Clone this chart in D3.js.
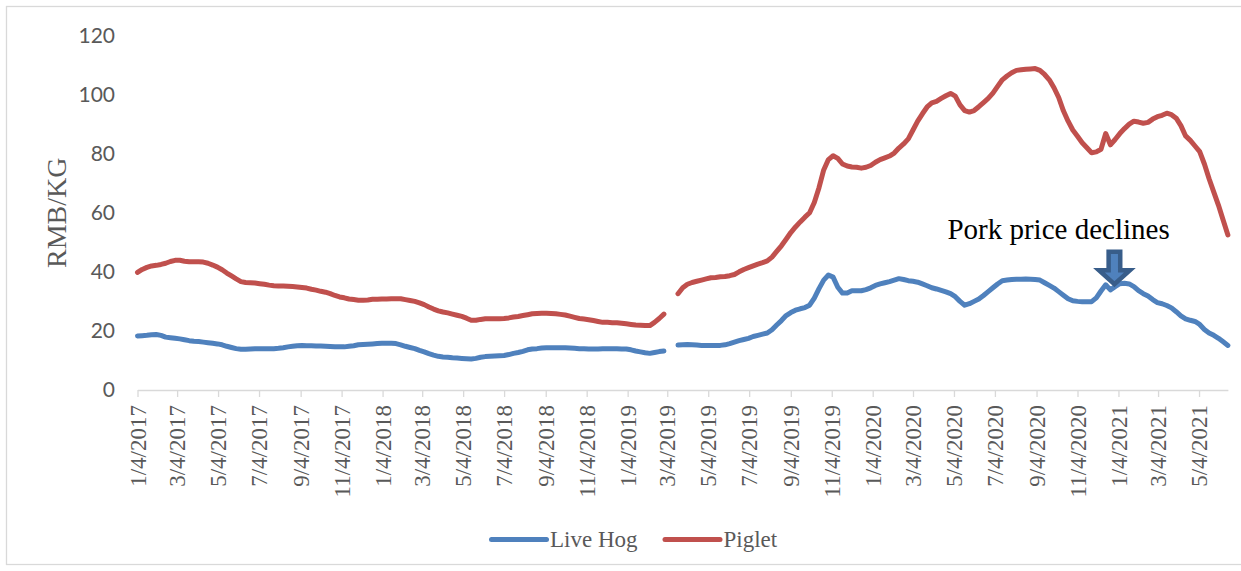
<!DOCTYPE html>
<html>
<head>
<meta charset="utf-8">
<script src="https://cdn.jsdelivr.net/npm/d3@7"></script>
<style>
  html, body { margin: 0; padding: 0; background: #ffffff; }
  svg { display: block; }
</style>
</head>
<body>
<svg id="chart" width="1241" height="571"></svg>
<script>
// Weekly price series (RMB/KG), first observation on 2017-01-04; null = no quote that week
const firstWeek = "2017-01-04";

const liveHog = [
  18.3, 18.4, 18.5, 18.7, 18.8, 18.5, 17.9, 17.7, 17.5, 17.3,
  17.0, 16.7, 16.5, 16.4, 16.2, 16.0, 15.8, 15.6, 15.3, 14.8,
  14.4, 14.0, 13.8, 13.8, 13.9, 14.0, 14.0, 14.0, 14.0, 14.0,
  14.1, 14.3, 14.6, 14.8, 15.0, 15.1, 15.0, 15.0, 14.9, 14.9,
  14.8, 14.7, 14.6, 14.6, 14.6, 14.8, 15.0, 15.3, 15.4, 15.5,
  15.6, 15.7, 15.8, 15.8, 15.8, 15.7, 15.3, 14.8, 14.4, 14.0,
  13.4, 12.9, 12.3, 11.8, 11.4, 11.2, 11.1, 10.9, 10.8, 10.7,
  10.6, 10.5, 10.7, 11.1, 11.3, 11.4, 11.5, 11.6, 11.7, 12.0,
  12.4, 12.7, 13.1, 13.6, 13.9, 14.0, 14.2, 14.3, 14.3, 14.3,
  14.3, 14.3, 14.2, 14.1, 14.0, 14.0, 13.9, 13.9, 13.9, 14.0,
  14.0, 14.0, 14.0, 13.9, 13.9, 13.6, 13.2, 12.9, 12.6, 12.4,
  12.7, 13.0, 13.2, null, null, 15.2, 15.3, 15.4, 15.3, 15.2,
  15.1, 15.1, 15.1, 15.1, 15.1, 15.3, 15.7, 16.2, 16.7, 17.1,
  17.5, 18.1, 18.5, 18.9, 19.3, 20.4, 22.0, 23.5, 25.2, 26.2,
  27.0, 27.5, 27.9, 28.7, 31.1, 34.3, 37.2, 38.9, 38.2, 34.8,
  32.8, 32.8, 33.6, 33.6, 33.6, 34.0, 34.6, 35.4, 35.9, 36.3,
  36.7, 37.2, 37.7, 37.4, 37.0, 36.8, 36.5, 35.9, 35.3, 34.6,
  34.2, 33.7, 33.2, 32.6, 31.6, 30.0, 28.7, 29.2, 30.0, 30.8,
  32.0, 33.3, 34.6, 35.9, 37.0, 37.2, 37.4, 37.5, 37.5, 37.6,
  37.5, 37.4, 37.2, 36.3, 35.4, 34.5, 33.3, 32.1, 30.9, 30.2,
  30.0, 29.9, 29.9, 29.9, 31.2, 33.5, 35.6, 33.9, 35.0, 36.0,
  36.1, 35.9, 35.0, 33.6, 32.6, 31.8, 30.6, 29.6, 29.2, 28.6,
  27.8, 26.5, 25.1, 24.1, 23.6, 23.2, 22.2, 20.5, 19.3, 18.5,
  17.5, 16.3, 15.1
];

const piglet = [
  39.8, 40.8, 41.5, 42.0, 42.2, 42.5, 42.9, 43.5, 43.9, 43.9,
  43.6, 43.4, 43.4, 43.4, 43.3, 42.9, 42.3, 41.6, 40.7, 39.6,
  38.6, 37.6, 36.7, 36.4, 36.3, 36.2, 36.0, 35.8, 35.5, 35.3,
  35.2, 35.2, 35.1, 35.0, 34.9, 34.7, 34.5, 34.1, 33.8, 33.4,
  33.1, 32.6, 32.0, 31.5, 31.2, 30.8, 30.6, 30.4, 30.4, 30.5,
  30.7, 30.7, 30.8, 30.8, 30.9, 30.9, 30.9, 30.6, 30.3, 30.0,
  29.5, 28.9, 28.1, 27.4, 26.8, 26.4, 26.1, 25.7, 25.3, 24.9,
  24.3, 23.6, 23.6, 23.9, 24.1, 24.1, 24.1, 24.1, 24.2, 24.4,
  24.7, 24.9, 25.2, 25.5, 25.8, 25.9, 26.0, 26.0, 25.9, 25.8,
  25.6, 25.4, 25.0, 24.6, 24.2, 24.0, 23.8, 23.5, 23.2, 22.9,
  22.9, 22.8, 22.8, 22.6, 22.4, 22.2, 22.0, 21.9, 21.8, 21.8,
  22.9, 24.2, 25.7, null, null, 32.6, 34.6, 35.8, 36.4, 36.8,
  37.2, 37.6, 38.0, 38.1, 38.3, 38.4, 38.7, 39.1, 40.0, 40.8,
  41.4, 42.0, 42.6, 43.1, 43.7, 45.0, 46.9, 48.8, 51.0, 53.3,
  55.2, 56.9, 58.5, 60.0, 63.5, 68.5, 74.5, 78.0, 79.3, 78.4,
  76.5, 75.8, 75.5, 75.4, 75.1, 75.4, 76.0, 77.1, 78.0, 78.6,
  79.2, 80.2, 81.9, 83.3, 85.0, 88.0, 91.0, 93.5, 95.8, 97.2,
  97.7, 98.7, 99.6, 100.4, 99.5, 96.5, 94.6, 94.1, 94.6, 95.9,
  97.3, 98.7, 100.5, 102.8, 105.0, 106.3, 107.4, 108.2, 108.4, 108.6,
  108.7, 108.8, 108.2, 106.8, 105.0, 102.3, 99.0, 94.5, 91.0, 88.0,
  85.9, 83.7, 82.0, 80.3, 80.6, 81.5, 86.8, 83.0, 84.8, 86.8,
  88.5, 90.0, 91.0, 90.7, 90.3, 90.6, 91.7, 92.5, 93.0, 93.7,
  93.2, 92.0, 89.5, 86.0, 84.5, 82.6, 80.7, 76.5, 71.5, 67.0,
  62.5, 57.5, 52.5
];

const tickLabels = [
  "1/4/2017", "3/4/2017", "5/4/2017", "7/4/2017", "9/4/2017", "11/4/2017",
  "1/4/2018", "3/4/2018", "5/4/2018", "7/4/2018", "9/4/2018", "11/4/2018",
  "1/4/2019", "3/4/2019", "5/4/2019", "7/4/2019", "9/4/2019", "11/4/2019",
  "1/4/2020", "3/4/2020", "5/4/2020", "7/4/2020", "9/4/2020", "11/4/2020",
  "1/4/2021", "3/4/2021", "5/4/2021"
];
const yTicks = [0, 20, 40, 60, 80, 100, 120];

const seriesNames = ["Live Hog", "Piglet"];
const seriesColors = ["#4f81bd", "#c0504d"];

const annotationText = "Pork price declines";
const annotationPoint = { date: "2020-12-29", value: 34.8 };

// ---- layout ----
const svg = d3.select("#chart");
const plot = { left: 137.5, right: 1227.9, top: 35.5, bottom: 390 };
const serif = "'Liberation Serif', 'Times New Roman', serif";
const axisGrey = "#d9d9d9";
const textGrey = "#595959";

// chart frame
svg.append("rect")
  .attr("x", 6.5).attr("y", 6.5)
  .attr("width", 1250).attr("height", 558)
  .attr("fill", "#ffffff")
  .attr("stroke", axisGrey)
  .attr("stroke-width", 1.3);

const start = d3.timeParse("%Y-%m-%d")(firstWeek);
const weekDates = liveHog.map((_, i) => d3.timeDay.offset(start, 7 * i));
const parseTick = d3.timeParse("%m/%d/%Y");
const tickDates = tickLabels.map(parseTick);

const x = d3.scaleTime()
  .domain([weekDates[0], weekDates[weekDates.length - 1]])
  .range([plot.left, plot.right]);

const y = d3.scaleLinear()
  .domain([0, 120])
  .range([plot.bottom, plot.top]);

// y axis: labels only, no line
const yAxis = d3.axisLeft(y).tickValues(yTicks).tickSize(0).tickPadding(0);
const yg = svg.append("g")
  .attr("transform", `translate(${115},0)`)
  .call(yAxis);
yg.select(".domain").remove();
yg.selectAll("text")
  .attr("fill", textGrey)
  .style("font-family", "Lato, 'Open Sans', sans-serif")
  .style("font-size", "21px");

// y axis title
svg.append("text")
  .attr("transform", `translate(66,${(plot.top + plot.bottom) / 2}) rotate(-90)`)
  .attr("text-anchor", "middle")
  .attr("fill", textGrey)
  .style("font-family", serif)
  .style("font-size", "28px")
  .text("RMB/KG");

// x axis
const fmt = d3.timeFormat("%-m/%-d/%Y");
const xAxis = d3.axisBottom(x).tickValues(tickDates).tickFormat(fmt).tickSize(7).tickSizeOuter(0);
const xg = svg.append("g")
  .attr("transform", `translate(0,${plot.bottom})`)
  .call(xAxis);
xg.select(".domain").attr("stroke", axisGrey).attr("stroke-width", 1.5);
xg.selectAll(".tick line").attr("stroke", axisGrey).attr("stroke-width", 1.3);
xg.selectAll(".tick text")
  .attr("fill", textGrey)
  .style("font-family", serif)
  .style("font-size", "23px")
  .attr("text-anchor", "end")
  .attr("transform", "rotate(-90)")
  .attr("x", -15)
  .attr("y", 0)
  .attr("dy", "0.33em");

// series lines
const seriesData = [liveHog, piglet];
const line = d3.line()
  .defined(d => d.v != null)
  .x(d => x(d.date))
  .y(d => y(d.v));

seriesData.forEach((vals, k) => {
  const pts = vals.map((v, i) => ({ date: weekDates[i], v }));
  svg.append("path")
    .datum(pts)
    .attr("d", line)
    .attr("fill", "none")
    .attr("stroke", seriesColors[k])
    .attr("stroke-width", 5)
    .attr("stroke-linejoin", "round")
    .attr("stroke-linecap", "round");
});

// annotation: label and down arrow pointing at the hog price dip
const ax = x(d3.timeParse("%Y-%m-%d")(annotationPoint.date));
const ay = y(annotationPoint.value);
const tipY = ay - 3;
const arrow = d3.path();
const shaftHalf = 5.8, headHalf = 15.5, headLen = 14, shaftLen = 18.5;
arrow.moveTo(ax - shaftHalf, tipY - headLen - shaftLen);
arrow.lineTo(ax + shaftHalf, tipY - headLen - shaftLen);
arrow.lineTo(ax + shaftHalf, tipY - headLen);
arrow.lineTo(ax + headHalf, tipY - headLen);
arrow.lineTo(ax, tipY);
arrow.lineTo(ax - headHalf, tipY - headLen);
arrow.lineTo(ax - shaftHalf, tipY - headLen);
arrow.closePath();
svg.append("path")
  .attr("d", arrow.toString())
  .attr("fill", "#4f81bd")
  .attr("stroke", "#385d8a")
  .attr("stroke-width", 4.5)
  .attr("stroke-linejoin", "miter");

svg.append("text")
  .attr("x", ax - 167)
  .attr("y", tipY - headLen - shaftLen - 13)
  .attr("fill", "#000000")
  .style("font-family", serif)
  .style("font-size", "29px")
  .text(annotationText);

// legend
const legend = svg.append("g");
const legendX = [491.5, 665];
seriesNames.forEach((name, k) => {
  const g = legend.append("g").attr("transform", `translate(${legendX[k]},539.5)`);
  g.append("line")
    .attr("x1", 0).attr("x2", 55)
    .attr("stroke", seriesColors[k])
    .attr("stroke-width", 5)
    .attr("stroke-linecap", "round");
  g.append("text")
    .attr("x", 58.5)
    .attr("y", 7.5)
    .attr("fill", textGrey)
    .style("font-family", serif)
    .style("font-size", "23px")
    .text(name);
});
</script>
</body>
</html>
